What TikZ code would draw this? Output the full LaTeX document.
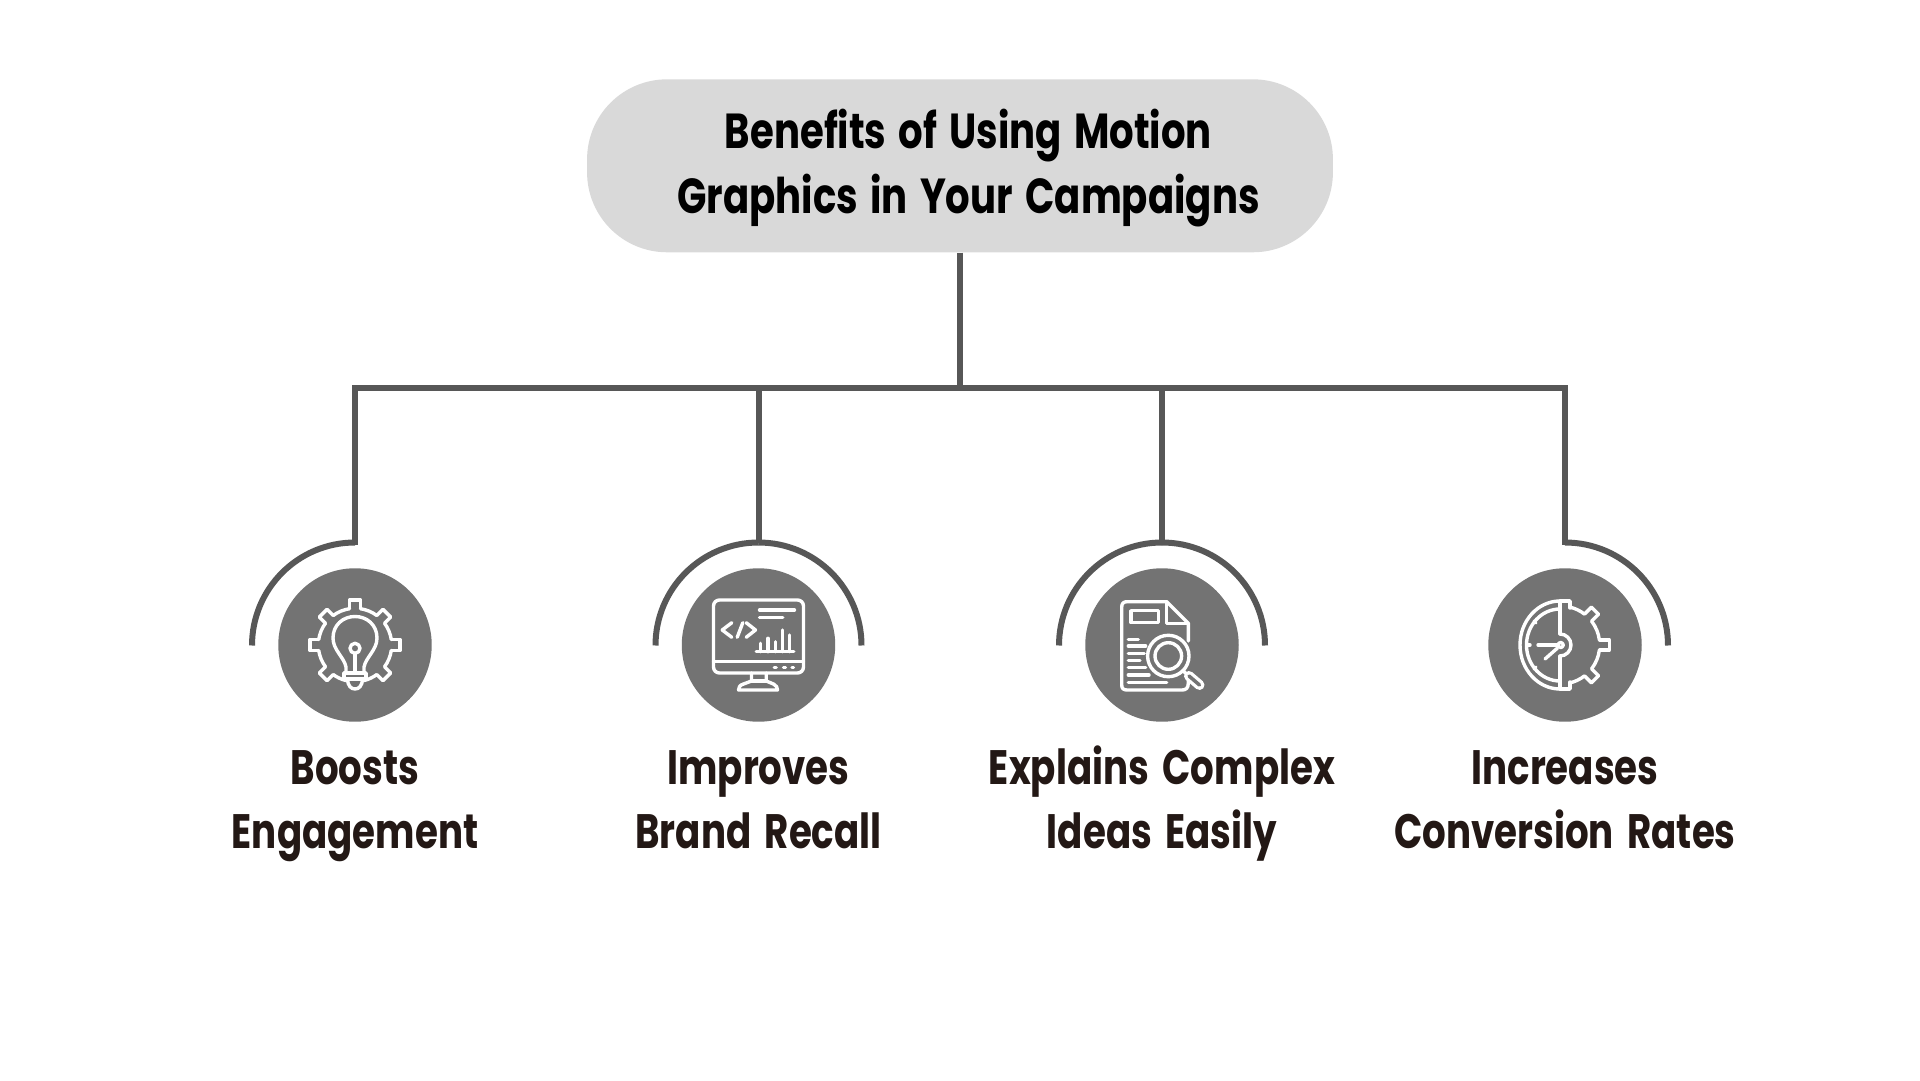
\documentclass[tikz,border=0pt]{standalone}
\usepackage{fontspec}
\newfontfamily\headfont[FakeStretch=0.785,WordSpace=1.5]{Poppins}
\newfontfamily\capfont[FakeStretch=0.77,WordSpace=1.7]{Poppins}
\definecolor{pillgrey}{HTML}{D9D9D9}
\definecolor{linegrey}{HTML}{575757}
\definecolor{discgrey}{HTML}{737373}
\definecolor{inkbrown}{HTML}{231815}

\begin{document}
\begin{tikzpicture}[x=.02cm,y=.02cm]
	\tikzstyle{pill}=[fill=pillgrey, rounded corners=1.6cm, inner sep=0pt, minimum width=14.92cm, minimum height=3.46cm]
	\tikzstyle{disc}=[circle, fill=discgrey, inner sep=0pt, minimum width=3.07cm]
	\tikzstyle{conn}=[draw=linegrey, line width=.12cm]
	\tikzstyle{ic}=[draw=white, line width=.068cm, line cap=round, line join=round]
	\tikzstyle{head}=[align=center, inner sep=0pt, anchor=base, font=\headfont\bfseries\fontsize{28}{37}\selectfont]
	\tikzstyle{caption}=[align=center, inner sep=0pt, anchor=base, text=inkbrown, font=\capfont\bfseries\fontsize{27.5}{35.9}\selectfont]

	\useasboundingbox (0,0) rectangle (1920,1080);

	\node[pill] (top) at (960,914.2) {};
	\node[head] (toptext) at (968.5,866) {Benefits of Using Motion\\Graphics in Your Campaigns};

	\node[disc] (c1) at (355,435) {};
	\node[disc] (c2) at (758.5,435) {};
	\node[disc] (c3) at (1162,435) {};
	\node[disc] (c4) at (1565,435) {};

	\node[caption] (t1) at (355,232) {Boosts\\Engagement};
	\node[caption] (t2) at (758.5,232) {Improves\\Brand Recall};
	\node[caption] (t3) at (1162,232) {Explains Complex\\Ideas Easily};
	\node[caption] (t4) at (1565,232) {Increases\\Conversion Rates};

	\coordinate (b1) at (355,692);
	\coordinate (b2) at (758.5,692);
	\coordinate (b3) at (1162,692);
	\coordinate (b4) at (1565,692);
	\coordinate (d1) at (355,537.5);
	\coordinate (d2) at (758.5,537.5);
	\coordinate (d3) at (1162,537.5);
	\coordinate (d4) at (1565,537.5);

	% tree
	\draw[conn] (top.south) -- (top.south |- b1);
	\draw[conn] (d1) ++(0,-2.9) -- (b1) -- (b4) -- (d4) -- ++(0,-2.9);
	\draw[conn] (b2) -- (d2);
	\draw[conn] (b3) -- (d3);

	% arcs over the discs
	\draw[conn] (d1) arc[start angle=90, end angle=180, radius=103];
	\draw[conn] (d2) arc[start angle=90, end angle=180, radius=103];
	\draw[conn] (d2) arc[start angle=90, end angle=0, radius=103];
	\draw[conn] (d3) arc[start angle=90, end angle=180, radius=103];
	\draw[conn] (d3) arc[start angle=90, end angle=0, radius=103];
	\draw[conn] (d4) arc[start angle=90, end angle=0, radius=103];

	% bulb in a gear
	\begin{scope}[shift={(c1.center)}]
		\foreach \a in {90,45,0,-45,135,180,225} {
			\draw[ic, rotate=\a] (36.5,-5.5) -- (45,-5.5) -- (45,5.5) -- (36.5,5.5);
		}
		\foreach \a in {0,45,90,135,-45} {
			\draw[ic] (\a+8.6:36.7) arc[start angle=\a+8.6, end angle=\a+36.4, radius=36.7];
		}
		\draw[ic] (180+8.6:36.7) arc[start angle=188.6, end angle=216.4, radius=36.7];
		\draw[ic] (233.6:36.7) arc[start angle=233.6, end angle=256, radius=36.7];
		\draw[ic] (306.4:36.7) arc[start angle=306.4, end angle=284, radius=36.7];
		\draw[ic] (-9,-28) -- (-9,-22) .. controls (-11,-12) and (-22,-5) .. (-22,7) .. controls (-22,20) and (-12,28.5) .. (0,28.5) .. controls (12,28.5) and (22,20) .. (22,7) .. controls (22,-5) and (11,-12) .. (9,-22) -- (9,-28);
		\draw[ic] (-11,-28) -- (11,-28) -- (11,-34) -- (-11,-34) -- cycle;
		\draw[ic] (-7.7,-34) .. controls (-7,-41) and (-4,-44) .. (0,-44) .. controls (4,-44) and (7,-41) .. (7.7,-34);
		\draw[ic] (0,-3.3) circle[radius=5];
		\draw[ic] (0,-8.3) -- (0,-28);
	\end{scope}

	% monitor
	\begin{scope}[shift={(c2.center)}]
		\draw[ic, rounded corners=.12cm] (-45,45) rectangle (45,-28);
		\draw[ic] (-45,-16.7) -- (45,-16.7);
		\draw[ic] (-7,-28) -- (-7,-36) -- (-15,-39) .. controls (-19,-40) and (-20,-43) .. (-20,-45) -- (19,-45) .. controls (19,-43) and (18,-40) .. (15,-39) -- (7.7,-36) -- (7.7,-28);
		\draw[ic] (-7,-36) -- (7.7,-36);
		\draw[ic] (1,35) -- (36,35);
		\draw[ic] (1,27.3) -- (24.3,27.3);
		\draw[ic] (-26.7,22.3) -- (-36.3,15) -- (-26.7,7.7);
		\draw[ic] (-15.7,22.3) -- (-21.3,7.7);
		\draw[ic] (-12.3,22.3) -- (-3,15) -- (-12.3,7.7);
		\draw[ic] (-2.3,-6.7) -- (35.3,-6.7);
		\draw[ic] (1.7,-6.7) -- (1.7,1.7);
		\draw[ic] (9.3,-6.7) -- (9.3,6.7);
		\draw[ic] (17,-6.7) -- (17,3.3);
		\draw[ic] (23.7,-6.7) -- (23.7,15);
		\draw[ic] (31,-6.7) -- (31,10);
		\draw[ic] (15.7,-22.7) -- (17.7,-22.7);
		\draw[ic] (25,-22.7) -- (27,-22.7);
		\draw[ic] (33.5,-22.7) -- (35,-22.7);
	\end{scope}

	% page and magnifier
	\begin{scope}[shift={(c3.center)}]
		\draw[ic] (26.3,4) -- (26.3,21.7) -- (4.7,43.3) -- (-35,43.3) .. controls (-38.5,43.3) and (-40.3,41.5) .. (-40.3,38) -- (-40.3,-40) .. controls (-40.3,-43.5) and (-38.5,-45) .. (-35,-45) -- (20,-45) .. controls (24,-45) and (26.3,-43) .. (26.3,-38) -- (26.3,-33);
		\draw[ic] (4.7,43.3) -- (4.7,21.7) -- (26.3,21.7);
		\draw[ic] (-31,34.3) rectangle (-3.7,22.3);
		\draw[ic] (-33.7,5.7) -- (-23.7,5.7);
		\draw[ic] (-33.7,-1) -- (-16.3,-1);
		\draw[ic] (-33.7,-8.3) -- (-17.7,-8.3);
		\draw[ic] (-33.7,-15.7) -- (-22,-15.7);
		\draw[ic] (-33.7,-22.7) -- (-16.3,-22.7);
		\draw[ic] (-33.7,-30) -- (-13,-30);
		\draw[ic] (-33.7,-37.3) -- (4.7,-37.3);
		\draw[ic, fill=discgrey] (6.3,-11) circle[radius=20.7];
		\draw[ic] (6.3,-11) circle[radius=13.3];
		\draw[ic] (20.8,-25.5) -- (25,-29.5);
		\draw[white, line width=.2cm, line cap=round] (27,-31) -- (37.5,-40);
		\draw[discgrey, line width=.07cm, line cap=round] (27,-31) -- (37.5,-40);
	\end{scope}

	% half clock, half gear
	\begin{scope}[shift={(c4.center)}]
		\draw[ic] (-5,43) -- (-5,11);
		\draw[ic] (-5,-11) -- (-5,-43);
		\draw[ic] (-5,11) arc[start angle=90, end angle=-90, radius=11];
		\draw[ic] (-5,44) arc[start angle=90, end angle=270, x radius=40, y radius=44];
		\draw[ic] (-5,36) arc[start angle=90, end angle=270, x radius=33.5, y radius=36];
		\draw[ic] (-31,24) -- (-29,22);
		\draw[ic] (-38,0) -- (-35,0);
		\draw[ic] (-31,-24) -- (-29,-22);
		\draw[ic] (-27,0) -- (-8,0);
		\draw[ic] (-20,-14) -- (-7.5,-3);
		\draw[ic] (-4.3,0) circle[radius=2.5];
		\draw[ic] (-5,44) -- (5,44) -- (5,37);
		\draw[ic] (-5,-44) -- (5,-44) -- (5,-37);
		\begin{scope}[shift={(-4.3,0)}]
			\foreach \a in {45,0,-45} {
				\draw[ic, rotate=\a] (39,-5) -- (48.5,-5) -- (48.5,5) -- (39,5);
			}
			\foreach \a in {-45,0} {
				\draw[ic] (\a+7.4:39) arc[start angle=\a+7.4, end angle=\a+37.6, radius=39];
			}
			\draw[ic] (52.4:39) arc[start angle=52.4, end angle=76, radius=39];
			\draw[ic] (-52.4:39) arc[start angle=-52.4, end angle=-76, radius=39];
		\end{scope}
	\end{scope}
\end{tikzpicture}
\end{document}
